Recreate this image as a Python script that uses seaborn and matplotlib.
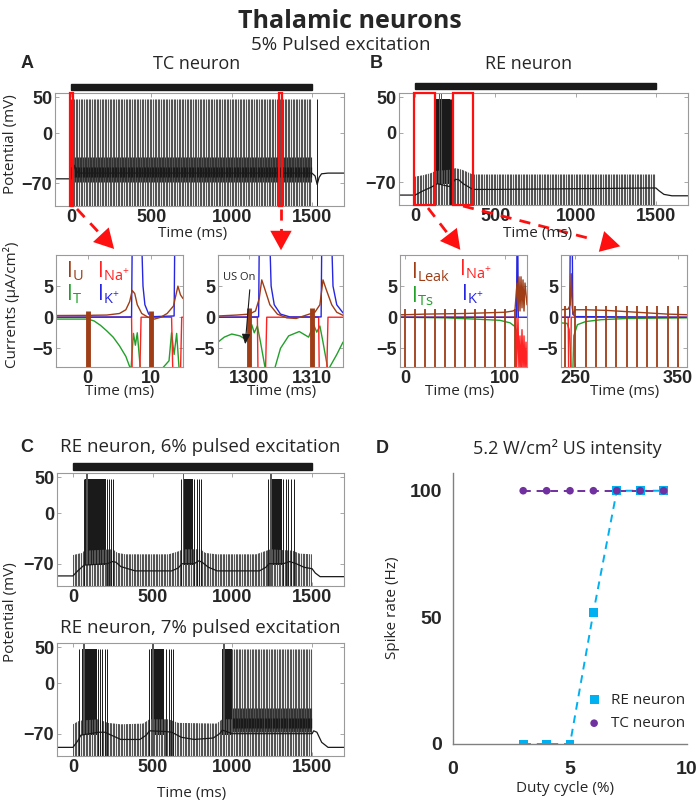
import numpy as np
import matplotlib
matplotlib.use("Agg")
import matplotlib.pyplot as plt
import seaborn as sns
from matplotlib.patches import Rectangle, FancyArrowPatch
from matplotlib.lines import Line2D
from matplotlib.transforms import blended_transform_factory

W, H = 700, 808

# --- stimulation protocol ---
stim_on, stim_off = 0, 1500
pulse_period = 10  # ms, 100 Hz PRF

# --- A: TC neuron, 5% pulsed excitation (membrane potential, mV) ---
tc_base_t = [-100, 0, 10, 20, 30, 45, 1500, 1520, 1533, 1545, 1560, 1600, 1700]
tc_base_v = [-64, -64, -60, -45, -52, -56, -56, -60, -72, -62, -57, -56, -56]
tc_tonic = (0, 1500)
tc_post_spikes = [1533]

# --- B: RE neuron, 5% ---
re5_base_t = [-100, 0, 50, 100, 130, 140, 215, 230, 250, 270, 300, 360, 500, 1000, 1500, 1520, 1550, 1600, 1700]
re5_base_v = [-88, -88, -82, -77, -73, -72, -76, -72, -66, -66, -72, -80, -80, -79, -78, -82, -87, -89, -89]
re5_env_t = [0, 50, 100, 125, 230, 250, 290, 360, 1500]
re5_env_v = [-62, -60, -57, -54, -52, -50, -52, -59, -59]
re5_bursts = [(130, 216)]
re5_extra = [122, 126, 220, 226]
re5_tall = [148, 152, 160]

# --- C: RE neuron, 6% ---
re6_base_t = [-100, 0, 30, 70, 215, 250, 270, 300, 390, 620, 660, 685, 760, 790, 810, 850, 905, 1170,
              1210, 1230, 1320, 1360, 1400, 1450, 1500, 1520, 1550, 1700]
re6_base_v = [-87, -87, -80, -72, -70, -67, -68, -74, -80, -80, -76, -70, -70, -66, -68, -75, -80, -80,
              -75, -70, -70, -67, -70, -75, -77, -83, -88, -88]
re6_env_t = [0, 60, 70, 250, 280, 330, 600, 660, 690, 800, 830, 900, 1150, 1200, 1240, 1380, 1420, 1500]
re6_env_v = [-58, -55, -52, -50, -55, -57, -57, -53, -50, -50, -55, -57, -57, -53, -50, -52, -56, -57]
re6_bursts = [(77, 210), (688, 750), (1233, 1310)]
re6_extra = [70, 215, 225, 240, 250, 680, 760, 775, 790, 800, 1225, 1320, 1335, 1350, 1370, 1385]
re6_tall = [80, 90, 690, 1235, 1242]

# --- C: RE neuron, 7% ---
re7_base_t = [-100, 0, 30, 50, 160, 200, 240, 300, 420, 460, 480, 580, 620, 680, 760, 880, 920, 937,
              1000, 1500, 1510, 1530, 1560, 1600, 1700]
re7_base_v = [-89, -89, -80, -72, -68, -68, -72, -78, -78, -72, -66, -67, -68, -75, -78, -76, -70, -65,
              -70, -70, -66, -68, -82, -89, -89]
re7_env_t = [0, 40, 160, 220, 300, 440, 480, 600, 660, 900, 937, 1000]
re7_env_v = [-57, -52, -50, -55, -57, -56, -50, -50, -55, -56, -50, -50]
re7_bursts = [(56, 149), (491, 574), (937, 999)]
re7_extra = [40, 160, 170, 185, 200, 215, 480, 585, 600, 615, 630]
re7_tall = [60, 70, 495, 505, 940, 950]
re7_tonic = (1000, 1500)

# --- A insets: currents (uA/cm2) ---
a1_u_t = [-5, 0, 3, 5, 6, 6.6, 7.0, 7.4, 7.8, 8.5, 9.5, 10.5, 11.5, 12.5, 13.5, 14.2, 14.6, 15]
a1_u_v = [0.27, 0.3, 0.35, 0.6, 1.2, 2.5, 4.3, 3.8, 2.0, 0.6, 0.0, -0.3, 0.0, 0.6, 1.8, 5.0, 3.6, 3.0]
a1_k_t = [-5, 6.9, 7.0, 8.5, 8.7, 9.0, 9.6, 10.5, 13.6, 13.7, 15]
a1_k_v = [0, 0.05, 12, 12, 5, 2, 0.5, 0.1, 0.2, 12, 12]
a1_na_t = [-5, 6.9, 7.0, 8.2, 8.4, 13.2, 13.4, 14.6, 14.8, 15]
a1_na_v = [0, 0, -9, -9, 0, 0, -9, -9, 0, 0]
a1_t_t = [-5, 0, 1, 2, 3, 4, 5, 6, 6.8, 7.2, 7.5, 7.8, 8.3, 11.5, 12.8, 13.2, 13.6, 14.0, 14.4, 15]
a1_t_v = [-0.3, -0.3, -0.6, -1.3, -2.2, -3.2, -4.6, -6.3, -8.5, -2.6, -4.5, -2.5, -8.5, -8.5, -7, -2.5, -6, -2.6, -8.5, -8.5]
a1_pulses = [0, 10]

a2_u_t = [1295, 1298, 1300, 1301, 1301.6, 1302, 1302.5, 1303.3, 1304.5, 1306, 1307.5, 1309, 1310.5,
          1311.3, 1311.8, 1312.3, 1313.2, 1314, 1315]
a2_u_v = [0.2, 0.35, 0.5, 1.0, 3, 6, 4.5, 2, 0.5, -0.1, -0.2, 0.3, 0.8, 2, 6, 4.5, 2, 0.8, 0.3]
a2_k_t = [1295, 1301.5, 1301.6, 1303.3, 1303.5, 1304, 1305, 1306.5, 1311.5, 1311.6, 1313.2, 1313.4, 1314, 1315]
a2_k_v = [0, 0.05, 12, 12, 5, 2, 0.5, 0.05, 0.05, 12, 12, 5, 2, 0.7]
a2_na_t = [1295, 1301.3, 1301.4, 1302.6, 1302.8, 1311.1, 1311.2, 1312.4, 1312.6, 1315]
a2_na_v = [0, 0, -9, -9, 0, 0, -9, -9, 0, 0]
a2_t_t = [1295, 1296, 1297.2, 1298.5, 1299.5, 1299.8, 1300.4, 1300.8, 1301.3, 1301.8, 1302.6, 1304.0,
          1305, 1306.3, 1308, 1309.5, 1310.3, 1310.8, 1311.3, 1311.8, 1312.6, 1314, 1315]
a2_t_v = [-4.0, -3.2, -2.7, -3.0, -3.6, -4.0, -1.2, -2.5, -1.4, -4, -8.5, -8.5,
          -5, -3.0, -2.3, -3.2, -1.2, -2.4, -1.4, -4, -8.5, -6, -4.0]
a2_pulses = [1300, 1310]

# --- B insets ---
b1_leak_t = [-5, 0, 20, 60, 100, 108, 110, 112, 113, 114, 115, 116, 117, 118, 119, 120, 122]
b1_leak_v = [0.4, 0.4, 0.5, 0.6, 0.8, 1.0, 1.2, 5.5, 1, 6.5, 1, 6.5, 1.5, 6, 1, 5.5, 2]
b1_ts_t = [-5, 40, 70, 95, 105, 110, 113, 115, 117, 122]
b1_ts_v = [0, -0.1, -0.3, -0.5, -0.9, -1.5, -3, -6, -9, -9]
b1_k_t = [-5, 111.5, 112, 112.8, 113.3, 122]
b1_k_v = [0, 0, 12, 12, 0, 0]
b1_na_t = [-5, 111, 111.5, 113, 114, 115, 116, 117, 118, 119, 120, 121, 122]
b1_na_v = [0, 0, -9, 0, -9, -3, -9, -2, -9, -3, -9, -4, -9]
b1_pulses = [0, 10, 20, 30, 40, 50, 60, 70, 80, 90, 100, 110]

b2_leak_t = [236, 243, 245, 246, 247, 248, 250, 260, 280, 300, 320, 340, 359]
b2_leak_v = [1.2, 1.3, 2, 7, 1.5, 0.5, 1.2, 1.2, 1.1, 0.9, 0.7, 0.5, 0.4]
b2_ts_t = [236, 242, 244, 245, 246, 247.5, 248.5, 252, 260, 275, 300, 359]
b2_ts_v = [-0.9, -1.0, -2, -5, -9, -9, -3, -1.2, -0.7, -0.4, -0.2, -0.1]
b2_k_t = [236, 244.5, 245, 247, 247.5, 250, 359]
b2_k_v = [0, 0, 12, 12, 0.5, 0.1, 0]
b2_na_t = [236, 243, 243.5, 245.5, 246, 359]
b2_na_v = [0, 0, -9, -9, 0, 0]
b2_pulses = [240, 250, 260, 270, 280, 290, 300, 310, 320, 330, 340, 350]

# --- D: spike rate vs duty cycle ---
duty = [3, 4, 5, 6, 7, 8, 9]
re_rate = [0, 0, 0, 52, 100, 100, 100]
tc_rate = [100, 100, 100, 100, 100, 100, 100]

BROWN = "#9E3D16"
RED = "#FF2222"
GREEN = "#22A02A"
BLUE = "#2626E0"
RE_C = "#00B0F0"
TC_C = "#7030A0"
GRID_C = "#9a9a9a"
PULSE_C = "#555555"

sns.set_theme(style="white")
plt.rcParams["font.family"] = ["Open Sans", "DejaVu Sans"]
plt.rcParams["mathtext.fontset"] = "custom"
plt.rcParams["mathtext.rm"] = "Open Sans"
plt.rcParams["mathtext.it"] = "Open Sans"
plt.rcParams["mathtext.default"] = "regular"

fig = plt.figure(figsize=(W / 100, H / 100), dpi=100, facecolor="white")


def px_axes(l, t, r, b):
    return fig.add_axes([l / W, 1 - b / H, (r - l) / W, (b - t) / H])


def ftext(x, y, s, **kw):
    kw.setdefault("ha", "center")
    kw.setdefault("va", "center")
    fig.text(x / W, 1 - y / H, s, **kw)


def style_box(ax, xlim, ylim, xticks, yticks, size=13):
    ax.set_xlim(xlim)
    ax.set_ylim(ylim)
    ax.set_xticks(xticks)
    ax.set_yticks(yticks)
    ax.tick_params(direction="in", length=3, width=0.6, color=GRID_C, top=True, right=True,
                   labelsize=size, pad=2, left=True, bottom=True)
    for s in ax.spines.values():
        s.set_color(GRID_C)
        s.set_linewidth(0.8)
    for lab in ax.get_xticklabels() + ax.get_yticklabels():
        lab.set_fontweight("bold")
        lab.set_family("Liberation Sans")


def draw_vm(ax, base_t, base_v, env_t=None, env_v=None, bursts=(), extra=(), tall=(), tonic=None):
    pulses = np.arange(stim_on, stim_off, pulse_period)
    if env_t is not None:
        poly = ax.fill_between(env_t, -110, env_v, facecolor="none", edgecolor="none", lw=0)
        lc = ax.vlines(pulses, -110, 60, colors=PULSE_C, linewidths=0.8)
        lc.set_clip_path(poly.get_paths()[0], ax.transData)
    if tonic is not None:
        tp = pulses[(pulses >= tonic[0]) & (pulses < tonic[1])]
        ax.vlines(tp, -110, 48, colors=PULSE_C, linewidths=0.8)
        ax.vlines(tp + 5, -68, -34, colors="#333333", linewidths=0.8)
        ax.vlines(tp + 2, -62, -48, colors="k", linewidths=0.9)
    for b0, b1 in bursts:
        ax.fill_between([b0, b1], -72, 48, color="k", lw=0)
    ax.vlines(extra, -110, 48, colors="k", linewidths=0.7)
    ax.vlines(tall, -110, 56, colors="#555555", linewidths=0.7)
    ax.plot(base_t, base_v, color="k", lw=0.9)


def stim_bar(ax, y0, h):
    tr = blended_transform_factory(ax.transData, ax.transAxes)
    ax.add_patch(Rectangle((stim_on, y0), stim_off - stim_on, h, transform=tr,
                           color="k", clip_on=False))


def red_box(ax, t0, t1):
    tr = blended_transform_factory(ax.transData, ax.transAxes)
    ax.add_patch(Rectangle((t0, 0), t1 - t0, 1, transform=tr, fill=False,
                           edgecolor="#FF1010", lw=1.6, clip_on=False, zorder=5))


def red_arrow(x0, y0, x1, y1):
    p0 = np.array([x0 / W, 1 - y0 / H])
    p1 = np.array([x1 / W, 1 - y1 / H])
    d = p1 - p0
    mid = p1 - d * 0.2
    fig.add_artist(Line2D([p0[0], mid[0]], [p0[1], mid[1]], transform=fig.transFigure,
                          color="#FF1010", lw=2, ls=(0, (4, 3))))
    fig.add_artist(FancyArrowPatch(tuple(mid), tuple(p1), transform=fig.transFigure,
                                   arrowstyle="-|>,head_width=0.55,head_length=1.0",
                                   mutation_scale=14, color="#FF1010", lw=0))


VM_XT = [0, 500, 1000, 1500]
VM_YT = [-70, 0, 50]

# ---------------- A ----------------
axA = px_axes(55, 93, 344, 206)
draw_vm(axA, tc_base_t, tc_base_v, tonic=tc_tonic, extra=tc_post_spikes)
style_box(axA, (-100, 1700), (-102, 56), VM_XT, VM_YT)
stim_bar(axA, 1.027, 0.053)
red_box(axA, -5, 15)
red_box(axA, 1295, 1315)

# ---------------- B ----------------
axB = px_axes(399, 93, 688, 205)
draw_vm(axB, re5_base_t, re5_base_v, re5_env_t, re5_env_v, re5_bursts, re5_extra, re5_tall)
style_box(axB, (-100, 1700), (-102, 56), VM_XT, VM_YT)
stim_bar(axB, 1.035, 0.055)
red_box(axB, -5, 122)
red_box(axB, 236, 359)


# ---------------- insets ----------------
def inset(box, xlim, xticks, curves, pulses, ptop, plw):
    ax = px_axes(*box)
    for t, v, c in curves:
        ax.plot(t, v, color=c, lw=1.0)
    ax.vlines(pulses, -10, ptop, colors=BROWN, linewidths=plw, zorder=4)
    style_box(ax, xlim, (-8, 10), xticks, [-5, 0, 5])
    return ax


axA1 = inset((56, 255, 183, 367), (-5, 15), [0, 10],
             [(a1_t_t, a1_t_v, GREEN), (a1_na_t, a1_na_v, RED), (a1_k_t, a1_k_v, BLUE),
              (a1_u_t, a1_u_v, BROWN)], a1_pulses, 1.0, 3.5)
axA2 = inset((218, 255, 343, 367), (1295, 1315), [1300, 1310],
             [(a2_t_t, a2_t_v, GREEN), (a2_na_t, a2_na_v, RED), (a2_k_t, a2_k_v, BLUE),
              (a2_u_t, a2_u_v, BROWN)], a2_pulses, 1.5, 3.5)
axB1 = inset((400, 255, 527, 367), (-5, 122), [0, 100],
             [(b1_ts_t, b1_ts_v, GREEN), (b1_na_t, b1_na_v, RED), (b1_k_t, b1_k_v, BLUE),
              (b1_leak_t, b1_leak_v, BROWN)], b1_pulses, 1.3, 1.3)
axB2 = inset((561, 255, 687, 367), (236, 359), [250, 350],
             [(b2_ts_t, b2_ts_v, GREEN), (b2_na_t, b2_na_v, RED), (b2_k_t, b2_k_v, BLUE),
              (b2_leak_t, b2_leak_v, BROWN)], b2_pulses, 1.8, 1.3)

# US On annotation
ftext(239, 278, "US On", fontsize=8)
fig.add_artist(FancyArrowPatch((250 / W, 1 - 287 / H), (245 / W, 1 - 347 / H),
                               transform=fig.transFigure, arrowstyle="-|>,head_width=0.25,head_length=0.6",
                               mutation_scale=10, color="k", lw=0.8))

# current labels
LF = 15
ftext(66, 277, r"I$_{U}$", color=BROWN, fontsize=LF, ha="left", va="baseline")
ftext(97, 277, r"I$_{Na^{+}}$", color=RED, fontsize=LF, ha="left", va="baseline")
ftext(66, 300, r"I$_{T}$", color=GREEN, fontsize=LF, ha="left", va="baseline")
ftext(97, 300, r"I$_{K^{+}}$", color=BLUE, fontsize=LF, ha="left", va="baseline")
ftext(411, 278, r"I$_{Leak}$", color=BROWN, fontsize=LF, ha="left", va="baseline")
ftext(459, 275, r"I$_{Na^{+}}$", color=RED, fontsize=LF, ha="left", va="baseline")
ftext(411, 302, r"I$_{Ts}$", color=GREEN, fontsize=LF, ha="left", va="baseline")
ftext(461, 300, r"I$_{K^{+}}$", color=BLUE, fontsize=LF, ha="left", va="baseline")

# ---------------- C ----------------
axC1 = px_axes(57, 473, 344, 586)
draw_vm(axC1, re6_base_t, re6_base_v, re6_env_t, re6_env_v, re6_bursts, re6_extra, re6_tall)
style_box(axC1, (-100, 1700), (-101, 56), VM_XT, VM_YT)
stim_bar(axC1, 1.027, 0.062)

axC2 = px_axes(57, 643, 344, 756)
draw_vm(axC2, re7_base_t, re7_base_v, re7_env_t, re7_env_v, re7_bursts, re7_extra, re7_tall,
        tonic=re7_tonic)
style_box(axC2, (-100, 1700), (-101, 56), VM_XT, VM_YT)

# ---------------- D ----------------
axD = px_axes(453, 473, 687, 744)
sns.lineplot(x=duty, y=re_rate, ax=axD, color=RE_C, lw=1.4, linestyle=(0, (4, 3)), legend=False)
sns.scatterplot(x=duty, y=re_rate, ax=axD, color=RE_C, marker="s", s=40, edgecolor="none",
                label="RE neuron", zorder=3)
sns.lineplot(x=duty, y=tc_rate, ax=axD, color=TC_C, lw=1.4, linestyle=(0, (4, 3)), legend=False)
sns.scatterplot(x=duty, y=tc_rate, ax=axD, color=TC_C, marker="o", s=30, edgecolor="none",
                label="TC neuron", zorder=4)
axD.set_xlim(0, 10)
axD.set_ylim(0, 107)
axD.set_xticks([0, 5, 10])
axD.set_yticks([0, 50, 100])
sns.despine(ax=axD)
for s in ["left", "bottom"]:
    axD.spines[s].set_color("#808080")
    axD.spines[s].set_linewidth(1.0)
axD.spines["bottom"].set_zorder(0)
axD.tick_params(length=0, labelsize=14)
axD.tick_params(axis="x", pad=12)
axD.tick_params(axis="y", pad=8)
for lab in axD.get_xticklabels() + axD.get_yticklabels():
    lab.set_fontweight("bold")
    lab.set_family("Liberation Sans")
axD.set_xlabel("")
axD.set_ylabel("")
axD.legend(frameon=False, loc="center left", bbox_to_anchor=(588 / W, 1 - 712 / H),
           bbox_transform=fig.transFigure, fontsize=11, handlelength=0.8, handletextpad=0.7,
           labelspacing=0.55, borderpad=0, borderaxespad=0)

# ---------------- arrows ----------------
red_arrow(77, 209, 116, 251)
red_arrow(281, 209, 281, 253)
red_arrow(428, 208, 462, 252)
red_arrow(463, 206, 623, 247)

# ---------------- texts ----------------
ftext(350, 22, "Thalamic neurons", fontsize=18, fontweight="bold")
ftext(341, 45, "5% Pulsed excitation", fontsize=13.5)
ftext(27, 64, "A", fontsize=13, fontweight="bold", family="Liberation Sans")
ftext(197, 64, "TC neuron", fontsize=13)
ftext(376, 64, "B", fontsize=13, fontweight="bold", family="Liberation Sans")
ftext(529, 64, "RE neuron", fontsize=13)
ftext(11, 144, "Potential (mV)", fontsize=11, rotation=90)
ftext(193, 234, "Time (ms)", fontsize=11)
ftext(538, 234, "Time (ms)", fontsize=11)
ftext(12, 305, "Currents (\u00b5A/cm\u00b2)", fontsize=11, rotation=90)
for x in [120, 282, 460, 625]:
    ftext(x, 392, "Time (ms)", fontsize=11)
ftext(27, 447, "C", fontsize=13, fontweight="bold", family="Liberation Sans")
ftext(200, 447, "RE neuron, 6% pulsed excitation", fontsize=13.5)
ftext(200, 628, "RE neuron, 7% pulsed excitation", fontsize=13.5)
ftext(11, 612, "Potential (mV)", fontsize=11, rotation=90)
ftext(192, 794, "Time (ms)", fontsize=11)
ftext(382, 448, "D", fontsize=13, fontweight="bold", family="Liberation Sans")
ftext(567, 448, "5.2 W/cm\u00b2 US intensity", fontsize=13)
ftext(393, 608, "Spike rate (Hz)", fontsize=11, rotation=90)
ftext(565, 788, "Duty cycle (%)", fontsize=11)

fig.savefig("out.png", dpi=100, facecolor="white")
plt.close(fig)
